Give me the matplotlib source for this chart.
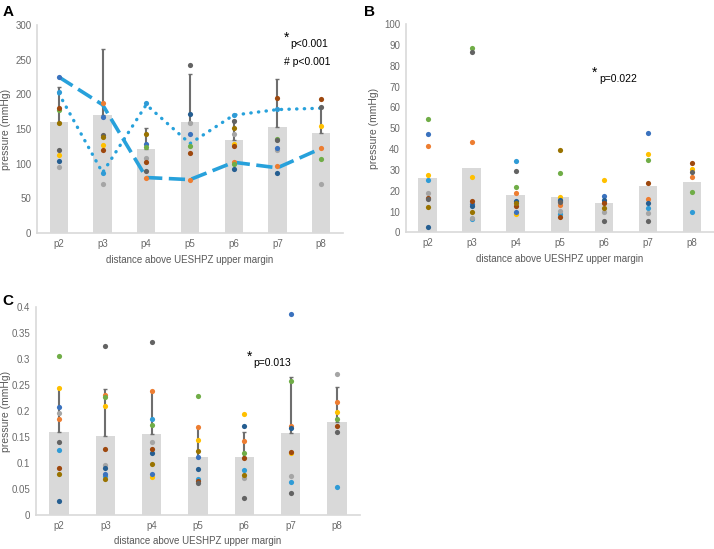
import numpy as np
import matplotlib
matplotlib.use("Agg")
import matplotlib.pyplot as plt

nan = np.nan

positions = ["p2", "p3", "p4", "p5", "p6", "p7", "p8"]

# subject colours (light blue, orange, grey, yellow, blue, green, dark blue, brown, dark grey, olive)
subject_colors = ["#2F9BD6", "#ED7D31", "#A5A5A5", "#FFC000", "#3A72BE",
                  "#70AD47", "#255E91", "#9E480E", "#636363", "#997300"]

# ---------------------------------------------------------------------------------------------
# Panel A
a_means = [160, 170, 121, 160, 134, 153, 144]
a_err = [50, 95, 31, 70, 29, 69, 37]
a_subjects = [
    [203, 87, 187, nan, 170, 179, nan],
    [nan, 188, 79, 77, 103, 96, 123],
    [95, 71, 108, 158, 143, 120, 71],
    [113, 127, nan, nan, 129, nan, 154],
    [225, 168, 128, 143, nan, 123, nan],
    [177, nan, 124, 126, 99, 135, 106],
    [104, nan, nan, 172, 93, 86, nan],
    [180, 120, 102, 115, 125, 195, 193],
    [119, 141, 89, 242, 162, 134, 181],
    [158, 139, 143, nan, 151, nan, nan],
]
a_dashed = [225, 185, 80, 77, 102, 94, 122]
a_dotted = [201, 87, 185, 129, 170, 178, 180]

# Panel B
b_means = [26.2, 30.9, 17.9, 17.1, 14.2, 22.2, 24.0]
b_subjects = [
    [25.1, 6.2, 34.4, 8.8, nan, 11.5, 9.8],
    [41.4, 43.2, 18.9, 13.0, 14.5, 16.0, 26.7],
    [18.7, 6.7, nan, 10.4, 9.8, 9.1, nan],
    [27.7, 26.6, 8.8, 17.1, 25.0, 37.6, 30.5],
    [47.0, 13.6, 9.9, 15.0, 17.6, 47.5, nan],
    [54.4, 88.3, 21.6, 28.6, nan, 34.9, 19.3],
    [2.7, 12.8, 15.2, 15.5, 15.7, 14.2, nan],
    [16.3, 15.0, 12.8, 7.2, 13.9, 23.8, 33.1],
    [16.0, 86.4, 29.4, 14.5, 5.3, 5.6, 28.9],
    [12.3, 9.8, 13.9, 39.7, 11.5, nan, nan],
]

# Panel C
c_means = [0.160, 0.153, 0.156, 0.113, 0.113, 0.158, 0.179]
c_err = [0.085, 0.089, 0.083, 0.057, 0.048, 0.1085, 0.067]
c_subjects = [
    [0.125, 0.0756, 0.185, 0.070, 0.088, 0.0646, 0.055],
    [0.186, 0.231, 0.239, 0.170, 0.1435, 0.171, 0.218],
    [0.197, 0.096, 0.140, nan, 0.072, 0.076, 0.272],
    [0.2455, 0.210, 0.073, 0.145, 0.194, 0.120, 0.199],
    [0.209, 0.079, 0.080, 0.1115, nan, 0.388, nan],
    [0.306, 0.227, 0.173, 0.229, 0.119, 0.259, 0.1846],
    [0.028, 0.0917, 0.119, 0.089, 0.172, 0.1685, nan],
    [0.090, 0.127, 0.127, 0.066, 0.111, 0.1225, 0.172],
    [0.140, 0.326, 0.333, 0.0615, 0.0333, 0.043, 0.160],
    [0.079, 0.069, 0.099, 0.124, 0.0775, nan, nan],
]

txt_color = "#6B6B6B"
plt.rcParams["font.family"] = ["Liberation Sans", "DejaVu Sans"]

fig = plt.figure(figsize=(7.14, 5.49), dpi=100)


def panel(rect, means, subjects, ymax, ystep, ylab_x, xlab_y, err=None, fmt=None):
    ax = fig.add_axes(rect)
    x = np.arange(len(positions))
    ax.bar(x, means, width=0.42, color="#D9D9D9", zorder=1)
    if err is not None:
        ax.errorbar(x, means, yerr=[np.zeros(len(err)), err], fmt="none",
                    ecolor="#6E6E6E", elinewidth=1.5, capsize=1.5, capthick=1, zorder=2)
    for vals, col in zip(subjects, subject_colors):
        ax.scatter(x, vals, s=14, color=col, zorder=4, linewidths=0)
    ax.set_xlim(-0.5, len(positions) - 0.5)
    ax.set_ylim(0, ymax)
    ticks = np.arange(0, ymax + ystep / 2, ystep)
    ax.set_yticks(ticks)
    if fmt:
        ax.set_yticklabels([fmt(t) for t in ticks])
    ax.set_xticks(x)
    ax.set_xticklabels(positions)
    ax.tick_params(length=0, labelsize=7, colors=txt_color, pad=4)
    for s in ["top", "right"]:
        ax.spines[s].set_visible(False)
    for s in ["left", "bottom"]:
        ax.spines[s].set_color("#D9D9D9")
        ax.spines[s].set_linewidth(1.2)
    ax.set_ylabel("pressure (mmHg)", fontsize=7.5, color="#595959")
    ax.yaxis.set_label_coords(ylab_x, 0.5)
    ax.set_xlabel("distance above UESHPZ upper margin", fontsize=7, color="#595959")
    ax.xaxis.set_label_coords(0.5, xlab_y)
    return ax


def cfmt(t):
    s = ("%.2f" % t).rstrip("0").rstrip(".")
    return s


axA = panel([0.0518, 0.5756, 0.4286, 0.3789], a_means, a_subjects, 300, 50,
            -0.086, -0.105, err=a_err)
xa = np.arange(len(positions))
axA.plot(xa, a_dashed, color="#27A1DB", lw=2.6, dashes=(4.5, 1.8), zorder=3)
axA.plot(xa, a_dotted, color="#27A1DB", lw=2.4, dashes=(0.1, 2.2),
         dash_capstyle="round", zorder=3)
axA.text(0.806, 0.92, "*", transform=axA.transAxes, fontsize=10, color="black")
axA.text(0.828, 0.895, "p<0.001", transform=axA.transAxes, fontsize=7.5, color="black")
axA.text(0.806, 0.81, "# p<0.001", transform=axA.transAxes, fontsize=7.5, color="black")

axB = panel([0.568, 0.5768, 0.432, 0.3794], b_means, b_subjects, 100, 10,
            -0.085, -0.105)
axB.text(0.605, 0.745, "*", transform=axB.transAxes, fontsize=10, color="black")
axB.text(0.627, 0.72, "p=0.022", transform=axB.transAxes, fontsize=7.5, color="black")

axC = panel([0.0504, 0.0614, 0.4538, 0.3789], c_means, c_subjects, 0.4, 0.05,
            -0.077, -0.1, err=c_err, fmt=cfmt)
axC.text(0.652, 0.745, "*", transform=axC.transAxes, fontsize=10, color="black")
axC.text(0.672, 0.72, "p=0.013", transform=axC.transAxes, fontsize=7.5, color="black")

fig.text(0.004, 0.97, "A", fontsize=11, fontweight="bold")
fig.text(0.51, 0.97, "B", fontsize=11, fontweight="bold")
fig.text(0.004, 0.445, "C", fontsize=11, fontweight="bold")

fig.savefig("out.png", dpi=100)
